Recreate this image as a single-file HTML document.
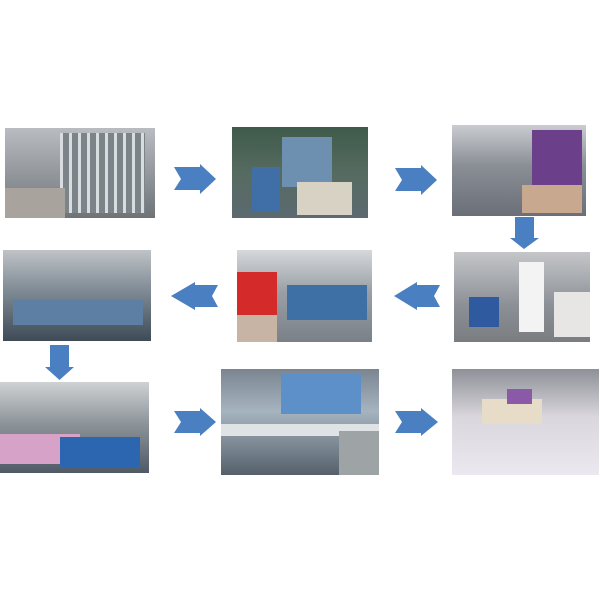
<!DOCTYPE html>
<html><head><style>
body{margin:0;width:600px;height:600px;background:#fff;position:relative;overflow:hidden}
.p{position:absolute;overflow:hidden}
.p div{position:absolute}
svg{position:absolute;left:0;top:0}
</style></head><body>
<!-- row 1 -->
<div class="p" style="left:5px;top:128px;width:150px;height:90px;background:linear-gradient(#b9bcc0,#8c9196 60%,#6e7378)">
<div style="left:55px;top:5px;width:85px;height:80px;background:repeating-linear-gradient(90deg,#d8dde0 0 3px,#7d8489 3px 9px)"></div>
<div style="left:0;top:60px;width:60px;height:30px;background:#a8a39c"></div></div>
<div class="p" style="left:232px;top:127px;width:136px;height:91px;background:linear-gradient(#3e5a4a,#566b60 50%,#5c6a70)">
<div style="left:50px;top:10px;width:50px;height:50px;background:#6d8fb0"></div>
<div style="left:65px;top:55px;width:55px;height:33px;background:#d8d2c4"></div>
<div style="left:20px;top:40px;width:28px;height:45px;background:#3f6fa6"></div></div>
<div class="p" style="left:452px;top:125px;width:134px;height:91px;background:linear-gradient(#c9ccd0,#8a8e95 45%,#6a6f78)">
<div style="left:80px;top:5px;width:50px;height:70px;background:#6b3f8a"></div>
<div style="left:70px;top:60px;width:60px;height:28px;background:#c9a890"></div></div>
<!-- row 2 -->
<div class="p" style="left:3px;top:250px;width:148px;height:91px;background:linear-gradient(#bfc3c7,#7e8a94 45%,#3e4a55)">
<div style="left:10px;top:50px;width:130px;height:25px;background:#5c7fa3"></div></div>
<div class="p" style="left:237px;top:250px;width:135px;height:92px;background:linear-gradient(#d6d8da,#9aa0a6 45%,#7a8088)">
<div style="left:0;top:22px;width:40px;height:45px;background:#d52a2a"></div>
<div style="left:50px;top:35px;width:80px;height:35px;background:#3e6fa5"></div>
<div style="left:0;top:65px;width:40px;height:27px;background:#c8b4a4"></div></div>
<div class="p" style="left:454px;top:252px;width:136px;height:90px;background:linear-gradient(#c4c6c8,#8b9096 60%,#7a7d80)">
<div style="left:65px;top:10px;width:25px;height:70px;background:#f3f3f3"></div>
<div style="left:15px;top:45px;width:30px;height:30px;background:#2f5aa0"></div>
<div style="left:100px;top:40px;width:36px;height:45px;background:#e8e6e4"></div></div>
<!-- row 3 -->
<div class="p" style="left:0;top:382px;width:149px;height:91px;background:linear-gradient(#cfd2d4,#8e959a 45%,#4f5a66)">
<div style="left:0;top:52px;width:80px;height:30px;background:#d6a2c8"></div>
<div style="left:60px;top:55px;width:80px;height:30px;background:#2d66b0"></div></div>
<div class="p" style="left:221px;top:369px;width:158px;height:106px;background:linear-gradient(#7a8590,#a6b4c0 40%,#55606a)">
<div style="left:60px;top:5px;width:80px;height:40px;background:#5d8fc8"></div>
<div style="left:0;top:55px;width:158px;height:12px;background:#dfe3e6"></div>
<div style="left:118px;top:62px;width:40px;height:44px;background:#9ea3a5"></div></div>
<div class="p" style="left:452px;top:369px;width:147px;height:106px;background:linear-gradient(#8e9098,#d9d6dc 45%,#ece8f0)">
<div style="left:30px;top:30px;width:60px;height:25px;background:#e6dcc8"></div>
<div style="left:55px;top:20px;width:25px;height:15px;background:#8a5aa8"></div></div>
<svg width="600" height="600" fill="#4a7fc1">
<polygon points="174,167 200,167 200,164 216,179 200,194 200,190 174,190 181,179"/>
<polygon points="395,168 421,168 421,165 437,180 421,195 421,191 395,191 402,180"/>
<polygon points="515,217 534,217 534,238 539,238 524,249 510,238 515,238"/>
<polygon points="218,285 195,285 195,282 171,296 195,310 195,307 218,307 212,296"/>
<polygon points="440,285 417,285 417,282 394,296 417,310 417,307 440,307 434,296"/>
<polygon points="50,345 69,345 69,367 74,367 59.5,380 45,367 50,367"/>
<polygon points="174,411 200,411 200,408 216,422 200,436 200,433 174,433 181,422"/>
<polygon points="395,411 421,411 421,408 438,422 421,436 421,433 395,433 402,422"/>
</svg>
</body></html>
